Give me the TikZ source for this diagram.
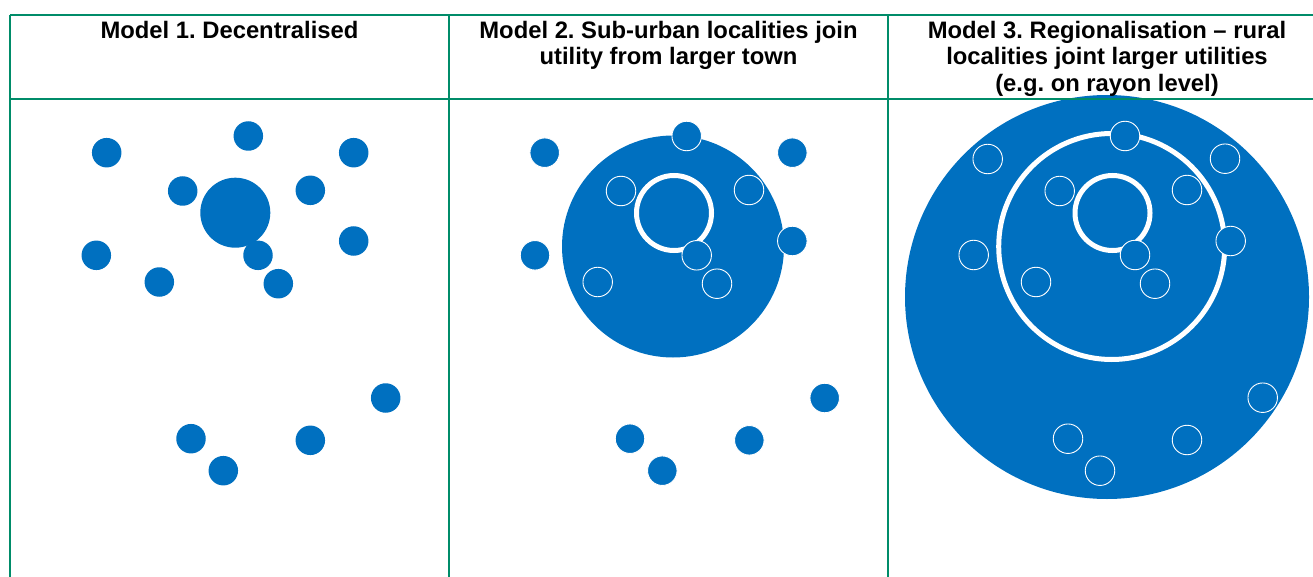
\documentclass[tikz,border=0pt]{standalone}
\usepackage{fontspec}
\setmainfont{Liberation Sans}
\frenchspacing
\definecolor{locblue}{RGB}{0,112,192}
\definecolor{gridgreen}{RGB}{0,140,105}
\tikzset{
  locA/.style={ circle, fill=locblue, inner sep=0pt, minimum size=29.5pt }
}
\tikzset{
  locB/.style={ circle, fill=locblue, draw=white, line width=0.9pt, inner sep=0pt, minimum size=29.5pt }
}
\tikzset{
  town/.style={ circle, fill=locblue, inner sep=0pt, minimum size=#1 }
}
\tikzset{
  ringW/.style={ circle, draw=white, line width=5pt, inner sep=0pt, minimum size=#1 }
}
\tikzset{
  hdtext/.style={ anchor=north, inner sep=0pt, align=center, font=\bfseries\fontsize{23.8}{26.5}\selectfont }
}
\tikzset{
  gridline/.style={ draw=gridgreen, line width=1.8pt }
}

\begin{document}
\begin{tikzpicture}[x=1pt, y=-1pt]
  \useasboundingbox (0,0) rectangle (1313,577);
  % model 1
  \node[town=70pt] (t1) at (235.3,212.7) {};
  \foreach \p [count=\i] in {(106.7,152.7),(248.3,136),(353.7,152.7),(182.7,191),(310.3,190.3),
      (96.3,255.3),(159.3,282),(258,255.3),(278.3,283.7),(353.7,241),
      (385.7,398),(191,438.7),(310.3,440.3),(223.3,470.7)}
    \node[locA] (a\i) at \p {};
  % model 2
  \node[town=222pt] (t2) at (673,246.5) {};
  \node[ringW=75pt] (r2) at (674,213) {};
  \foreach \p [count=\i] in {(544.7,152.7),(686.7,136),(792.3,152.7),(621,191),(749,190),
      (535,255.3),(597.7,282),(696.7,255.3),(717,283.7),(792.3,241),
      (824.7,398),(630,438.7),(749.3,440.3),(662.3,470.7)}
    \node[locB] (b\i) at \p {};
  % model 3
  \node[town=404pt] (t3) at (1107,297) {};
  \node[ringW=226pt] (q3) at (1111.7,246.5) {};
  \node[ringW=75pt] (r3) at (1112.5,213) {};
  \foreach \p [count=\i] in {(987.7,159),(1125,136),(1225,158.7),(1059.7,191),(1187,190),
      (973.7,255),(1036,282),(1135,255),(1155,283.7),(1230.7,241),
      (1262.7,397.7),(1068,438.7),(1187,440),(1100,470.7)}
    \node[locB] (c\i) at \p {};
  % table
  \draw[gridline] (10,15) -- (1313,15);
  \draw[gridline] (10,99) -- (1313,99);
  \draw[gridline] (10,15) -- (10,577);
  \draw[gridline] (449,15) -- (449,577);
  \draw[gridline] (888,15) -- (888,577);
  \node[hdtext] (hdA) at (229.5,21) {Model 1. Decentralised};
  \node[hdtext] (hdB) at (668.5,21) {Model 2. Sub-urban localities join\\utility from larger town};
  \node[hdtext] (hdC) at (1107,21) {Model 3. Regionalisation -- rural\\localities joint larger utilities\\(e.g. on rayon level)};
\end{tikzpicture}
\end{document}
